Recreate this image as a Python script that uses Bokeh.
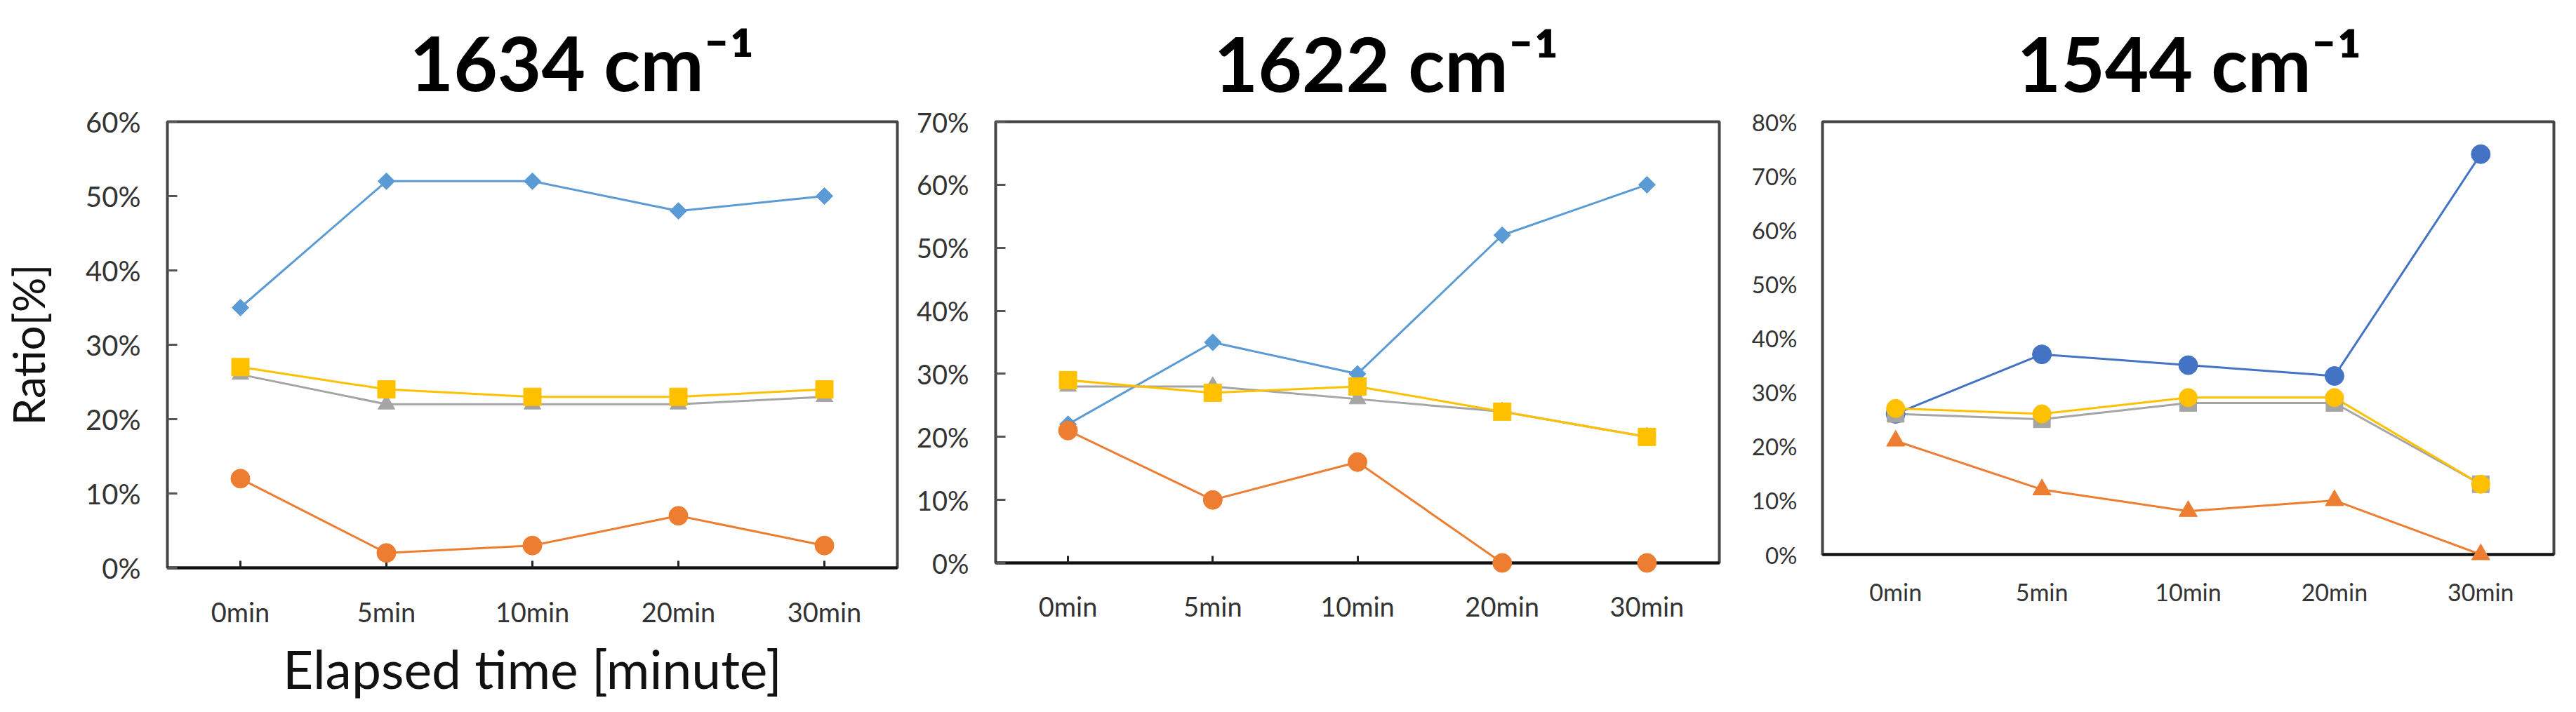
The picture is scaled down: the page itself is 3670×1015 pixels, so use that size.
import math
from bokeh.plotting import figure
from bokeh.layouts import row
from bokeh.models import FixedTicker, PrintfTickFormatter, Title, Range1d, FactorRange
from bokeh.embed import file_html
from bokeh.resources import INLINE

times = ["0min", "5min", "10min", "20min", "30min"]

# 1634 cm-1
p1_blue = [35, 52, 52, 48, 50]
p1_orange = [12, 2, 3, 7, 3]
p1_gray = [26, 22, 22, 22, 23]
p1_yellow = [27, 24, 23, 23, 24]

# 1622 cm-1
p2_blue = [22, 35, 30, 52, 60]
p2_orange = [21, 10, 16, 0, 0]
p2_gray = [28, 28, 26, 24, 20]
p2_yellow = [29, 27, 28, 24, 20]

# 1544 cm-1
p3_blue = [26, 37, 35, 33, 74]
p3_orange = [21, 12, 8, 10, 0]
p3_gray = [26, 25, 28, 28, 13]
p3_yellow = [27, 26, 29, 29, 13]

titles = ["1634 cm\u207b\u00b9", "1622 cm\u207b\u00b9", "1544 cm\u207b\u00b9"]
y_max = [60, 70, 80]

BLUE = "#5B9BD5"
DBLUE = "#4472C4"
ORANGE = "#ED7D31"
GRAY = "#A5A5A5"
YELLOW = "#FFC000"
FONT = "Lato"
TICKC = "#333333"


def make_panel(ymax, fw, fh, bl, br, bt, bb, tick_fs, xtick_fs, ystand, xstand, ticks_on):
    p = figure(x_range=FactorRange(factors=times, range_padding=0),
               y_range=Range1d(0, ymax), title=None,
               frame_width=fw, frame_height=fh,
               min_border_left=bl, min_border_right=br,
               min_border_top=bt, min_border_bottom=bb,
               output_backend="svg", toolbar_location=None)
    p.xgrid.visible = False
    p.ygrid.visible = False
    p.outline_line_color = "#444444"
    p.outline_line_width = 4
    p.background_fill_color = "white"
    p.border_fill_color = "white"

    p.yaxis.ticker = FixedTicker(ticks=list(range(0, ymax + 1, 10)))
    p.yaxis.formatter = PrintfTickFormatter(format="%d%%")
    p.yaxis.axis_line_color = None
    p.yaxis.minor_tick_line_color = None
    p.yaxis.major_tick_out = 0
    p.yaxis.major_tick_in = 14 if ticks_on else 0
    p.yaxis.major_tick_line_color = "#555555" if ticks_on else None
    p.yaxis.major_tick_line_width = 3
    p.yaxis.major_label_text_font = FONT
    p.yaxis.major_label_text_font_size = f"{tick_fs}px"
    p.yaxis.major_label_text_color = TICKC
    p.yaxis.major_label_standoff = ystand

    p.xaxis.axis_line_color = "#111111"
    p.xaxis.axis_line_width = 4
    p.xaxis.major_tick_out = 0
    p.xaxis.major_tick_in = 10 if ticks_on else 0
    p.xaxis.major_tick_line_color = "#222222" if ticks_on else None
    p.xaxis.major_tick_line_width = 3
    p.xaxis.major_label_text_font = FONT
    p.xaxis.major_label_text_font_size = f"{xtick_fs}px"
    p.xaxis.major_label_text_color = TICKC
    p.xaxis.major_label_standoff = xstand
    return p


def add_title(p, text, offset, standoff):
    p.add_layout(Title(text=text, align="left", offset=offset, standoff=standoff,
                       text_font=FONT, text_font_style="bold",
                       text_font_size="108px", text_color="black"), "above")


def series(p, vals, color, marker, size, angle=0.0):
    p.line(times, vals, line_color=color, line_width=3)
    p.scatter(times, vals, marker=marker, size=size, angle=angle, color=color,
              level="overlay")


# panel 1
p1 = make_panel(y_max[0], 1040, 636, 235, 7, 172, 184, 40, 38, 38, 39, True)
series(p1, p1_blue, BLUE, "square", 17, math.pi / 4)
series(p1, p1_orange, ORANGE, "circle", 27)
series(p1, p1_gray, GRAY, "triangle", 24)
series(p1, p1_yellow, YELLOW, "square", 25)
p1.yaxis.axis_label = "Ratio[%]"
p1.yaxis.axis_label_text_font = FONT
p1.yaxis.axis_label_text_font_style = "normal"
p1.yaxis.axis_label_text_font_size = "62px"
p1.yaxis.axis_label_text_color = "#111111"
p1.yaxis.axis_label_standoff = 42
p1.xaxis.axis_label = "Elapsed time [minute]"
p1.xaxis.axis_label_text_font = FONT
p1.xaxis.axis_label_text_font_style = "normal"
p1.xaxis.axis_label_text_font_size = "75px"
p1.xaxis.axis_label_text_color = "#111111"
p1.xaxis.axis_label_standoff = 10
add_title(p1, titles[0], 345, 41)

# panel 2
p2 = make_panel(y_max[1], 1031, 629, 133, 26, 171, 192, 38, 38, 38, 38, True)
series(p2, p2_blue, BLUE, "square", 17, math.pi / 4)
series(p2, p2_orange, ORANGE, "circle", 27)
series(p2, p2_gray, GRAY, "triangle", 24)
series(p2, p2_yellow, YELLOW, "square", 25)
add_title(p2, titles[1], 311, 40)

# panel 3
p3 = make_panel(y_max[2], 1042, 617, 121, 15, 171, 204, 33, 34, 36, 32, False)
series(p3, p3_blue, DBLUE, "circle", 27)
series(p3, p3_orange, ORANGE, "triangle", 26)
series(p3, p3_gray, GRAY, "square", 24)
series(p3, p3_yellow, YELLOW, "circle", 26)
add_title(p3, titles[2], 277, 40)

layout = row(p1, p2, p3, spacing=0)
open("out.html", "w").write(file_html(layout, INLINE))
